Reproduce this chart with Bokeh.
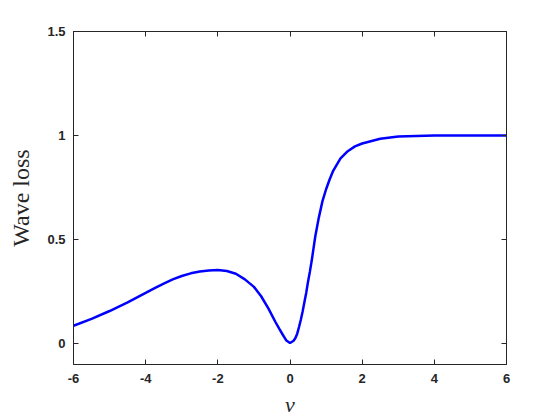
from bokeh.plotting import figure
from bokeh.models import Range1d, FixedTicker, LinearAxis
from bokeh.embed import file_html
from bokeh.resources import INLINE

# Data
v = [-6.0, -5.5, -5.0, -4.5, -4.0, -3.75, -3.5, -3.25, -3.0, -2.75, -2.5, -2.25,
     -2.0, -1.75, -1.5, -1.25, -1.0, -0.8, -0.6, -0.4, -0.3, -0.2, -0.1, 0.0,
     0.1, 0.15, 0.2, 0.25, 0.3, 0.35, 0.4, 0.45, 0.5, 0.55, 0.6, 0.7, 0.8, 0.9,
     1.0, 1.1, 1.2, 1.4, 1.6, 1.8, 2.0, 2.5, 3.0, 4.0, 5.0, 6.0]
loss = [0.086, 0.119, 0.157, 0.199, 0.244, 0.267, 0.289, 0.309, 0.325, 0.338,
        0.347, 0.352, 0.354, 0.349, 0.336, 0.309, 0.273, 0.228, 0.170, 0.103,
        0.072, 0.043, 0.015, 0.003, 0.014, 0.027, 0.048, 0.080, 0.115, 0.155,
        0.200, 0.245, 0.298, 0.345, 0.397, 0.515, 0.607, 0.685, 0.742, 0.790,
        0.832, 0.890, 0.925, 0.948, 0.962, 0.985, 0.995, 1.0, 1.0, 1.0]

x_ticks = [-6, -4, -2, 0, 2, 4, 6]
x_tick_labels = ["-6", "-4", "-2", "0", "2", "4", "6"]
y_ticks = [0, 0.5, 1, 1.5]
y_tick_labels = ["0", "0.5", "1", "1.5"]

AX = "#262626"

p = figure(width=552, height=420, output_backend="svg", toolbar_location=None,
           x_range=Range1d(-6, 6), y_range=Range1d(-0.1, 1.5),
           min_border_left=73, min_border_top=31, min_border_right=46,
           min_border_bottom=56)
p.xgrid.visible = False
p.ygrid.visible = False
p.outline_line_color = AX
p.outline_line_width = 1
p.background_fill_color = "white"
p.border_fill_color = "white"

p.line(v, loss, line_color="#0000FF", line_width=2.5)

def style(ax, ticks, labels, show_labels=True):
    ax.ticker = FixedTicker(ticks=ticks)
    ax.major_label_overrides = {t: l for t, l in zip(ticks, labels)}
    ax.major_tick_in = 5
    ax.major_tick_out = 0
    ax.minor_tick_in = 0
    ax.minor_tick_out = 0
    ax.axis_line_color = AX
    ax.major_tick_line_color = AX
    ax.major_label_text_color = AX
    ax.major_label_text_font = "Liberation Sans"
    ax.major_label_text_font_style = "bold"
    ax.major_label_text_font_size = "13px"
    if not show_labels:
        ax.major_label_text_alpha = 0
        ax.major_label_text_font_size = "1px"
        ax.major_label_standoff = 0

xa = p.xaxis[0]
ya = p.yaxis[0]
style(xa, x_ticks, x_tick_labels)
style(ya, y_ticks, y_tick_labels)
xa.major_label_standoff = 9
ya.major_label_standoff = 8

xa.axis_label = "v"
xa.axis_label_text_font = "Liberation Serif"
xa.axis_label_text_font_style = "italic"
xa.axis_label_text_font_size = "22px"
xa.axis_label_text_color = AX
xa.axis_label_standoff = 6

ya.axis_label = "Wave loss"
ya.axis_label_text_font = "Liberation Serif"
ya.axis_label_text_font_style = "normal"
ya.axis_label_text_font_size = "24px"
ya.axis_label_text_color = AX
ya.axis_label_standoff = 10

top = LinearAxis()
style(top, x_ticks, x_tick_labels, show_labels=False)
p.add_layout(top, "above")
right = LinearAxis()
style(right, y_ticks, y_tick_labels, show_labels=False)
p.add_layout(right, "right")

open("out.html", "w").write(file_html(p, INLINE))
